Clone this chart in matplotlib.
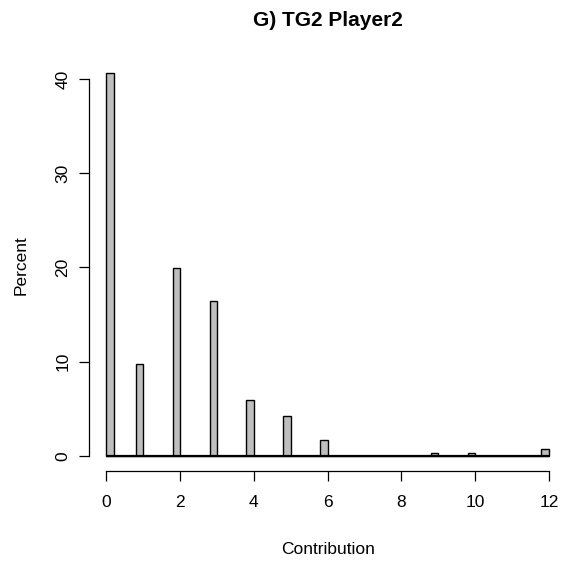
import numpy as np
import matplotlib
matplotlib.use("Agg")
import matplotlib.pyplot as plt

plt.rcParams["font.family"] = ["Liberation Sans", "DejaVu Sans"]

# percent of observations at each contribution level
contribution = [0, 1, 2, 3, 4, 5, 6, 7, 8, 9, 10, 11, 12]
percent = [40.6, 9.8, 19.9, 16.4, 5.9, 4.2, 1.7, 0.0, 0.0, 0.35, 0.35, 0.0, 0.7]

bin_width = 0.2
breaks = np.round(np.arange(0, 12 + bin_width / 2, bin_width), 6)

# put each value into its histogram bin (R style: right-closed, lowest included)
heights = np.zeros(len(breaks) - 1)
for c, p in zip(contribution, percent):
    idx = max(int(np.searchsorted(breaks, c, side="left")) - 1, 0)
    heights[idx] += p

fig = plt.figure(figsize=(5.61, 5.64), dpi=100)
ax = fig.add_axes([0.1579, 0.1644, 0.852, 0.7328])

ax.bar(breaks[:-1], heights, width=bin_width, align="edge",
       color="#bebebe", edgecolor="black", linewidth=1.0)
# empty bins show up as a flat outline along zero
ax.hlines(0, breaks[0], breaks[-1], color="black", linewidth=1.6, zorder=1.5)

ax.set_xlim(-0.48, 12.48)
ax.set_ylim(-0.04 * max(percent), max(percent) * 1.04)

for s in ["top", "right"]:
    ax.spines[s].set_visible(False)
ax.spines["bottom"].set_bounds(0, 12)
ax.spines["left"].set_bounds(0, 40)
ax.spines["bottom"].set_linewidth(0.9)
ax.spines["left"].set_linewidth(0.9)

ax.set_xticks([0, 2, 4, 6, 8, 10, 12])
ax.set_yticks([0, 10, 20, 30, 40])
ax.tick_params(axis="both", direction="out", length=7.2, width=0.9,
               labelsize=12.5)
ax.tick_params(axis="x", pad=10)
ax.tick_params(axis="y", pad=6)
for lab in ax.get_yticklabels():
    lab.set_rotation(90)
    lab.set_va("center")

ax.set_xlabel("Contribution", fontsize=12.5, labelpad=23)
ax.set_ylabel("Percent", fontsize=12.5, labelpad=19)
ax.set_title("G) TG2 Player2", fontsize=15, fontweight="bold", pad=23)

fig.savefig("out.png", dpi=100, facecolor="white")
